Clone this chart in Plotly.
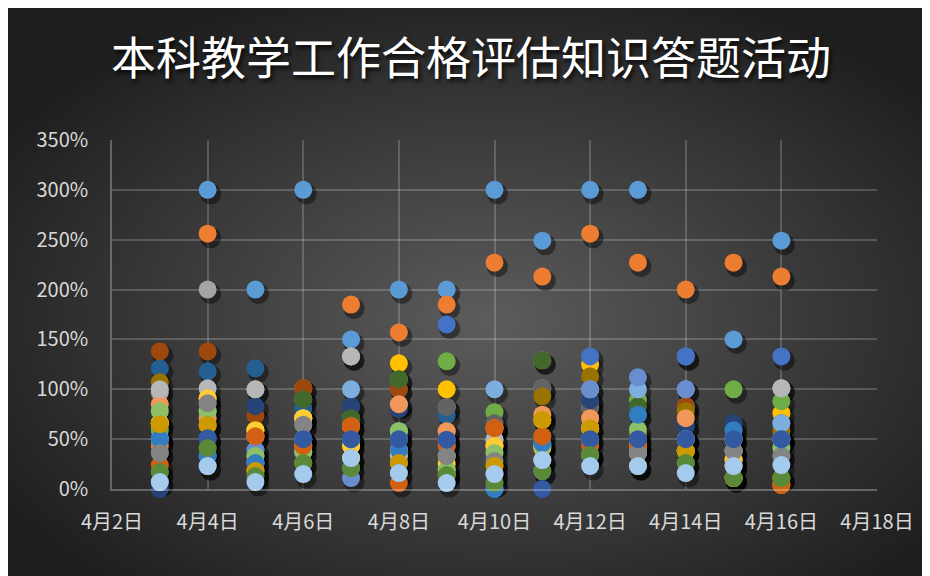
import base64
import pandas as pd
import plotly.graph_objects as go

title_text = "本科教学工作合格评估知识答题活动"

dates = ["2024-04-03", "2024-04-04", "2024-04-05", "2024-04-06", "2024-04-07",
         "2024-04-08", "2024-04-09", "2024-04-10", "2024-04-11", "2024-04-12",
         "2024-04-13", "2024-04-14", "2024-04-15", "2024-04-16"]

tick_dates = ["2024-04-02", "2024-04-04", "2024-04-06", "2024-04-08", "2024-04-10",
              "2024-04-12", "2024-04-14", "2024-04-16", "2024-04-18"]
tick_labels = ["4月2日", "4月4日", "4月6日", "4月8日", "4月10日",
               "4月12日", "4月14日", "4月16日", "4月18日"]

y_ticks = [0, 0.5, 1.0, 1.5, 2.0, 2.5, 3.0, 3.5]

# values in percent, one list per series
s1 = [50, 300, 200, 300, 150, 200, 200, 300, 249, 300, 300, 133, 150, 249]
s2 = [43, 256, 53, 101, 185, 157, 185, 227, 213, 256, 227, 200, 227, 213]
s3 = [97, 200, 100, 71, 133, 85, 82, 49, 101, 82, 36, 83, 38, 101]
s4 = [66, 91, 59, 71, 43, 126, 100, 43, 69, 125, 43, 38, 29, 76]
s5 = [50, 51, 39, 50, 50, 50, 165, 0, 46, 133, 50, 133, 50, 133]
s6 = [59, 78, 33, 90, 71, 110, 128, 77, 129, 34, 89.6, 26, 100, 88]
s7 = [121, 118, 121, 81, 83, 100, 74, 61, 53, 89, 74, 63, 59, 66]
s8 = [138, 138, 73.5, 101, 63, 100, 58, 61, 74, 71, 43, 83, 29, 4]
s9 = [36, 86, 26, 64, 50, 33, 82, 66, 101, 82, 36, 50, 38, 33]
s10 = [107, 64, 18, 71, 43, 26, 33, 23, 93, 113, 55, 78, 29, 58]
s11 = [0, 51, 83, 50, 83, 80, 49, 0, 0, 89, 50, 63, 66, 50]
s12 = [17, 41, 13, 90, 71, 110, 14, 6, 129, 34, 83, 26, 11, 11]
s13 = [50, 23, 26, 37, 100, 58, 19, 100, 29, 100, 100, 100, 23, 66]
s14 = [85, 71, 53, 43, 63, 85, 58, 61, 74.5, 71, 43, 71, 50, 4]
s15 = [100, 101, 100, 71, 133, 33, 33, 49.5, 43, 61, 36, 50, 38, 101]
s16 = [66, 91, 59, 71, 43, 39, 25, 43, 41, 61, 43, 38, 29, 50]
s17 = [7, 33, 39, 50, 11, 50, 49, 15, 18, 100, 112, 100, 50, 50]
s18 = [78, 78, 33, 37, 31, 58, 19, 36, 43, 50, 59.5, 50, 11, 41]
s19 = [50, 33, 26, 50, 50, 39, 43, 0, 46, 50, 74.5, 50, 59, 50]
s20 = [24, 64, 53, 43, 63, 6, 43, 61, 53, 43, 43, 38, 23, 4]
s21 = [36, 86, 18, 64.5, 21, 26, 33, 28, 29, 34, 36, 38, 38, 33]
s22 = [65, 64, 18, 26, 31, 26, 14, 23, 69.5, 61, 23, 38, 11, 11]
s23 = [-2, 51, -2, 50, 50, 50, 49.5, -2, 0, 50, 50, 50, 50, 50]
s24 = [17, 41, 13, 26, 21, 16, 14, 6, 18, 34, 23, 26, 11, 11]
s25 = [7, 23, 7, 15, 31, 16, 6, 15, 29, 23, 23, 16, 23, 24]

series = [s1, s2, s3, s4, s5, s6, s7, s8, s9, s10, s11, s12, s13,
          s14, s15, s16, s17, s18, s19, s20, s21, s22, s23, s24, s25]

colors = ["#5B9BD5", "#ED7D31", "#A5A5A5", "#FFC000", "#4472C4", "#70AD47",
          "#255E91", "#9E480E", "#636363", "#997300", "#264478", "#43682B",
          "#7CAFDD", "#F1975A", "#B7B7B7", "#FFCD33", "#698ED0", "#8CC168",
          "#327DC2", "#D26012", "#848484", "#CC9A00", "#335AA1", "#5A8A39",
          "#A4CBEE"]

fig = go.Figure()

# empty trace so the main (grid/tick) subplot is always built
fig.add_trace(go.Scatter(x=[], y=[], mode="markers", showlegend=False, hoverinfo="skip"))

# shadow layer (offset axes), then the markers
for i, vals in enumerate(series):
    fig.add_trace(go.Scatter(
        x=dates, y=[v / 100 for v in vals], mode="markers", cliponaxis=False,
        xaxis="x2", yaxis="y2", hoverinfo="skip", showlegend=False,
        marker=dict(size=21, color="rgba(0,0,0,0.42)", line=dict(width=0)),
    ))
for i, vals in enumerate(series):
    fig.add_trace(go.Scatter(
        x=dates, y=[v / 100 for v in vals], mode="markers", cliponaxis=False,
        xaxis="x3", yaxis="y3", name=f"系列{i + 1}", showlegend=False,
        marker=dict(size=18, color=colors[i], line=dict(width=0)),
    ))

W, H = 922, 568
ml, mr, mt, mb = 104, 53, 132, 87
pw, ph = W - ml - mr, H - mt - mb

x0, x1 = pd.Timestamp("2024-04-02"), pd.Timestamp("2024-04-18")
ms_per_px = (x1 - x0) / pw
y_per_px = 3.5 / ph
sx = ms_per_px * 3
sy = y_per_px * 4

svg = f'''<svg xmlns="http://www.w3.org/2000/svg" width="{W}" height="{H}" viewBox="0 0 {W} {H}" preserveAspectRatio="none">
<defs><radialGradient id="g" cx="52%" cy="55%" r="62%">
<stop offset="0%" stop-color="#5c5c5c"/>
<stop offset="100%" stop-color="#1e1e1e"/>
</radialGradient></defs>
<rect x="0" y="0" width="{W}" height="{H}" fill="url(#g)"/>
</svg>'''
src = "data:image/svg+xml;base64," + base64.b64encode(svg.encode()).decode()

fig.add_layout_image(dict(
    source=src, xref="paper", yref="paper",
    x=-ml / pw, y=(H - mb) / ph,
    sizex=W / pw, sizey=H / ph,
    xanchor="left", yanchor="top", sizing="stretch", layer="below",
))

grid = "rgba(255,255,255,0.19)"
tick_font = dict(family="Noto Sans CJK SC", size=20, color="#D9D9D9")

fig.update_layout(
    width=W, height=H,
    margin=dict(l=ml, r=mr, t=mt, b=mb, pad=0),
    paper_bgcolor="#262626", plot_bgcolor="rgba(0,0,0,0)",
    title=dict(text=title_text, x=463 / W, xref="container", xanchor="center",
               y=1 - 51 / H, yref="container", yanchor="middle",
               font=dict(family="Noto Sans CJK SC", size=45, color="white",
                         shadow="2px 3px 4px rgba(0,0,0,0.85)")),
    xaxis=dict(type="date", range=[x0, x1], tickvals=tick_dates, ticktext=tick_labels,
               showgrid=True, gridcolor=grid, gridwidth=1.5,
               showline=True, linecolor="rgba(255,255,255,0.28)", linewidth=1.5,
               ticks="", tickfont=tick_font, ticklabelstandoff=14, zeroline=False,
               automargin=False),
    yaxis=dict(range=[0, 3.5], tickvals=y_ticks, tickformat=".0%",
               showgrid=True, gridcolor=grid, gridwidth=1.5,
               showline=True, linecolor="rgba(255,255,255,0.28)", linewidth=1.5,
               zeroline=False, ticks="", tickfont=tick_font, ticklabelstandoff=18,
               automargin=False),
    xaxis2=dict(type="date", overlaying="x", range=[x0 - sx, x1 - sx], visible=False),
    yaxis2=dict(overlaying="y", range=[0 + sy, 3.5 + sy], visible=False),
    xaxis3=dict(type="date", overlaying="x", range=[x0, x1], visible=False),
    yaxis3=dict(overlaying="y", range=[0, 3.5], visible=False),
)

fig.write_html("out.html")
